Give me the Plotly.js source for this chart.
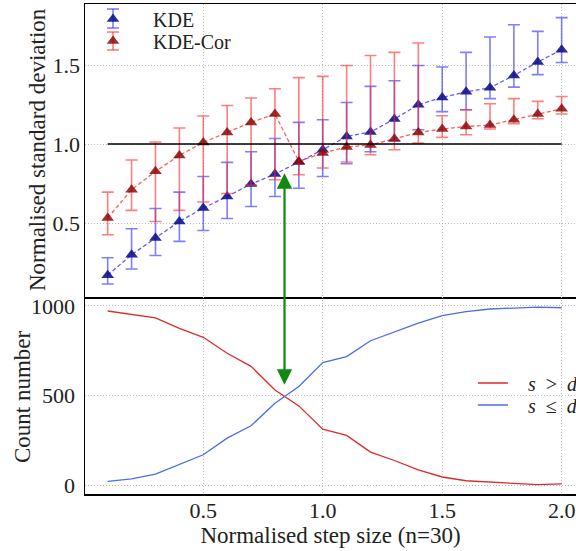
<!DOCTYPE html>
<html>
<head>
<meta charset="utf-8">
<script src="https://cdn.plot.ly/plotly-3.0.1.min.js"></script>
<style>html,body{margin:0;padding:0;background:#fff;}#chart{width:576px;height:551px;}</style>
</head>
<body>
<div id="chart"></div>
<script>
// Step sizes (normalised)
const stepSize = [0.1,0.2,0.3,0.4,0.5,0.6,0.7,0.8,0.9,1.0,1.1,1.2,1.3,1.4,1.5,1.6,1.7,1.8,1.9,2.0];

// KDE: normalised standard deviation with lower / upper error bounds
const kdeMean  = [0.17,0.30,0.405,0.51,0.595,0.668,0.747,0.81,0.886,0.964,1.048,1.076,1.158,1.249,1.295,1.33,1.356,1.434,1.519,1.597];
const kdeUpper = [0.28,0.464,0.592,0.696,0.795,0.884,0.951,1.035,1.137,1.154,1.263,1.365,1.40,1.497,1.487,1.58,1.677,1.755,1.713,1.80];
const kdeLower = [0.114,0.209,0.295,0.384,0.453,0.529,0.605,0.668,0.72,0.795,0.875,0.951,1.02,1.09,1.205,1.217,1.287,1.36,1.439,1.516];

// KDE-Cor
const corMean  = [0.532,0.711,0.827,0.928,1.01,1.073,1.137,1.19,0.89,0.943,0.981,0.994,1.034,1.073,1.095,1.111,1.12,1.154,1.19,1.223];
const corUpper = [0.696,0.899,1.013,1.101,1.177,1.244,1.291,1.35,1.42,1.428,1.497,1.56,1.58,1.639,1.179,1.217,1.255,1.287,1.27,1.301];
const corLower = [0.426,0.58,0.51,0.58,0.633,0.687,0.74,0.774,0.806,0.848,0.886,0.932,0.964,1.006,1.042,1.059,1.095,1.128,1.16,1.19];

// Counts
const countGreater = [972,954,933,875,825,736,663,531,442,312,277,184,137,85,45,24,15,9,2,6];
const countLessEq  = [20,35,61,117,169,262,331,457,550,684,717,806,853,904,946,968,983,990,994,990];

const legendLabels = ['KDE','KDE-Cor','<i>s</i>  &gt;  <i>d</i>','<i>s</i>  ≤  <i>d</i>'];
const axisTitles = ['Normalised standard deviation','Count number','Normalised step size (n=30)'];
const yTicksTop = [0.5,1.0,1.5];
const yTicksBottom = [0,500,1000];
const xTicks = [0.5,1.0,1.5,2.0];

const plus = (u,m)=>u.map((v,i)=>v-m[i]);
const minus = (l,m)=>m.map((v,i)=>v-l[i]);

const FONT = 'Liberation Serif';
const PAD_TOP = '\u2002\u2002';
const PAD_BOT = '\u2002\u2005';

const BLUE_ERR = 'rgba(40,40,255,0.6)';
const RED_ERR = 'rgba(255,40,40,0.6)';

const traces = [
  {x: stepSize, y: kdeMean, xaxis:'x', yaxis:'y', mode:'lines', showlegend:false, hoverinfo:'skip',
   line:{color:'rgba(40,40,255,0.75)', width:1.3, dash:'4px,2.5px'}},
  {x: stepSize, y: kdeMean, xaxis:'x', yaxis:'y', mode:'markers', name: PAD_TOP + legendLabels[0], legend:'legend',
   marker:{symbol:'triangle-up', size:11, color:'rgba(20,20,140,0.9)'},
   error_y:{type:'data', symmetric:false, array: plus(kdeUpper,kdeMean), arrayminus: minus(kdeLower,kdeMean),
            color:BLUE_ERR, thickness:1.6, width:6}},
  {x: stepSize, y: corMean, xaxis:'x', yaxis:'y', mode:'lines', showlegend:false, hoverinfo:'skip',
   line:{color:'rgba(255,40,40,0.75)', width:1.3, dash:'4px,2.5px'}},
  {x: stepSize, y: corMean, xaxis:'x', yaxis:'y', mode:'markers', name: PAD_TOP + legendLabels[1], legend:'legend3',
   marker:{symbol:'triangle-up', size:11, color:'rgba(140,10,10,0.85)'},
   error_y:{type:'data', symmetric:false, array: plus(corUpper,corMean), arrayminus: minus(corLower,corMean),
            color:RED_ERR, thickness:1.6, width:6}},
  {x: stepSize, y: countGreater, xaxis:'x2', yaxis:'y2', mode:'lines', name: PAD_BOT + legendLabels[2], legend:'legend2',
   line:{color:'#dd2a2a', width:1.3}},
  {x: stepSize, y: countLessEq, xaxis:'x2', yaxis:'y2', mode:'lines', name: PAD_BOT + legendLabels[3], legend:'legend4',
   line:{color:'#4a6ee8', width:1.3}}
];

const gridStyle = {showgrid:true, gridcolor:'#bdbdbd', griddash:'1px,2px', gridwidth:1,
  showline:true, linecolor:'#000', linewidth:1.5, zeroline:false, ticks:'',
  tickfont:{family:FONT, size:22, color:'#222'}};

const legendBase = {xanchor:'left', yanchor:'middle', bgcolor:'rgba(0,0,0,0)',
  font:{family:FONT, size:20, color:'#222'}, borderwidth:0};

// plot-area helpers (paper fractions) for legend glyphs and y titles
const H = 490, W = 491;
const py = p => (494 - p) / H;
const px = p => (p - 85) / W;
function legendErr(xp, top, bot, color){
  const cap = 6;
  return [
    {type:'line', xref:'paper', yref:'paper', x0:px(xp), x1:px(xp), y0:py(top), y1:py(bot), line:{color:color, width:1.6}},
    {type:'line', xref:'paper', yref:'paper', x0:px(xp-cap), x1:px(xp+cap), y0:py(top), y1:py(top), line:{color:color, width:1.6}},
    {type:'line', xref:'paper', yref:'paper', x0:px(xp-cap), x1:px(xp+cap), y0:py(bot), y1:py(bot), line:{color:color, width:1.6}}
  ];
}
const titleFont = {family:FONT, size:23, color:'#222'};

const layout = {
  width:576, height:551,
  margin:{l:85, r:0, t:4, b:57, autoexpand:false},
  paper_bgcolor:'#fff', plot_bgcolor:'#fff',
  font:{family:FONT, size:20, color:'#222'},
  xaxis: Object.assign({}, gridStyle, {domain:[0,1], anchor:'y', range:[0.005,2.06], tickvals:xTicks,
          showticklabels:false, mirror:true}),
  yaxis: Object.assign({}, gridStyle, {domain:[0.402,1], anchor:'x', range:[0.032,1.886], tickvals:yTicksTop,
          tickformat:'.1f', ticklabelstandoff:-1}),
  xaxis2: Object.assign({}, gridStyle, {domain:[0,1], anchor:'y2', range:[0.005,2.06], tickvals:xTicks,
          tickformat:'.1f', mirror:false, ticklabelstandoff:-4,
          title:{text:axisTitles[2], font:titleFont, standoff:2}}),
  yaxis2: Object.assign({}, gridStyle, {domain:[0,0.402], anchor:'x2', range:[-50,1050], tickvals:yTicksBottom,
          ticklabelstandoff:4}),
  legend: Object.assign({}, legendBase, {x:px(93), y:py(19)}),
  legend3: Object.assign({}, legendBase, {x:px(93), y:py(41)}),
  legend2: Object.assign({}, legendBase, {x:0.79, y:py(383)}),
  legend4: Object.assign({}, legendBase, {x:0.79, y:py(405)}),
  shapes:[
    {type:'line', xref:'x', yref:'y', x0:stepSize[0], x1:stepSize[stepSize.length-1], y0:1, y1:1,
     line:{color:'#000', width:1.5}}
  ].concat(legendErr(113, 9, 28, BLUE_ERR), legendErr(113, 32, 50, RED_ERR)),
  annotations:[
    {xref:'x', yref:'y', x:0.84, y:0.815, ax:0, ay:213, text:'', showarrow:true,
     arrowside:'end+start', arrowhead:2, arrowsize:1.4, arrowwidth:2.2, arrowcolor:'#118811', standoff:0, startstandoff:0},
    {xref:'paper', yref:'paper', x:0, xshift:-48, y:py(150), xanchor:'center', yanchor:'middle', textangle:-90,
     showarrow:false, text:axisTitles[0], font:titleFont},
    {xref:'paper', yref:'paper', x:0, xshift:-63, y:py(397), xanchor:'center', yanchor:'middle', textangle:-90,
     showarrow:false, text:axisTitles[1], font:titleFont}
  ],
  showlegend:true
};

Plotly.newPlot('chart', traces, layout, {displayModeBar:false, staticPlot:true});
</script>
</body>
</html>
